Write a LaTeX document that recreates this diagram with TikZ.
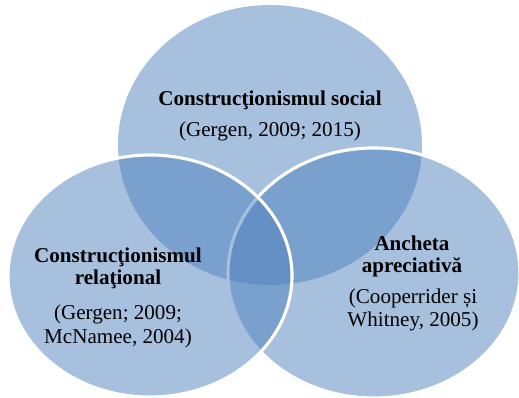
\documentclass[tikz,border=0pt]{standalone}
\usepackage{fontspec}
\setmainfont{Liberation Serif}
\definecolor{vennblue}{HTML}{4F81BD}
\tikzset{
  venn/.style={fill=vennblue,fill opacity=0.5,draw=white,line width=2.2pt},
  headtext/.style={font=\fontsize{15}{15.6}\selectfont\bfseries,align=center},
  citetext/.style={font=\fontsize{15}{17}\selectfont,align=center}
}
\begin{document}
\begin{tikzpicture}[x=0.025cm,y=-0.025cm]
\useasboundingbox (0,0) rectangle (519,398);
\pgfmathsetmacro{\topx}{270}
\pgfmathsetmacro{\topy}{145}
\pgfmathsetmacro{\relx}{150}
\pgfmathsetmacro{\rely}{276}
\pgfmathsetmacro{\appx}{374}
\pgfmathsetmacro{\appy}{273}
\fill[vennblue,fill opacity=0.5] (\topx,\topy) ellipse [x radius=152, y radius=140];
\draw[venn] (\appx,\appy) ellipse [x radius=146, y radius=125];
\draw[venn] (\relx,\rely) ellipse [x radius=142, y radius=121];
\node[headtext] (socialhead) at (270,100) {Construcţionismul social};
\node[citetext] (socialref) at (270,131) {(Gergen, 2009; 2015)};
\node[headtext] (relhead) at (118,268) {Construcţionismul\\relaţional};
\node[citetext] (relref) at (118,326) {(Gergen; 2009;\\McNamee, 2004)};
\node[headtext] (apphead) at (412,256) {Ancheta\\apreciativă};
\node[citetext] (appref) at (413,310) {(Cooperrider și\\Whitney, 2005)};
\end{tikzpicture}
\end{document}
